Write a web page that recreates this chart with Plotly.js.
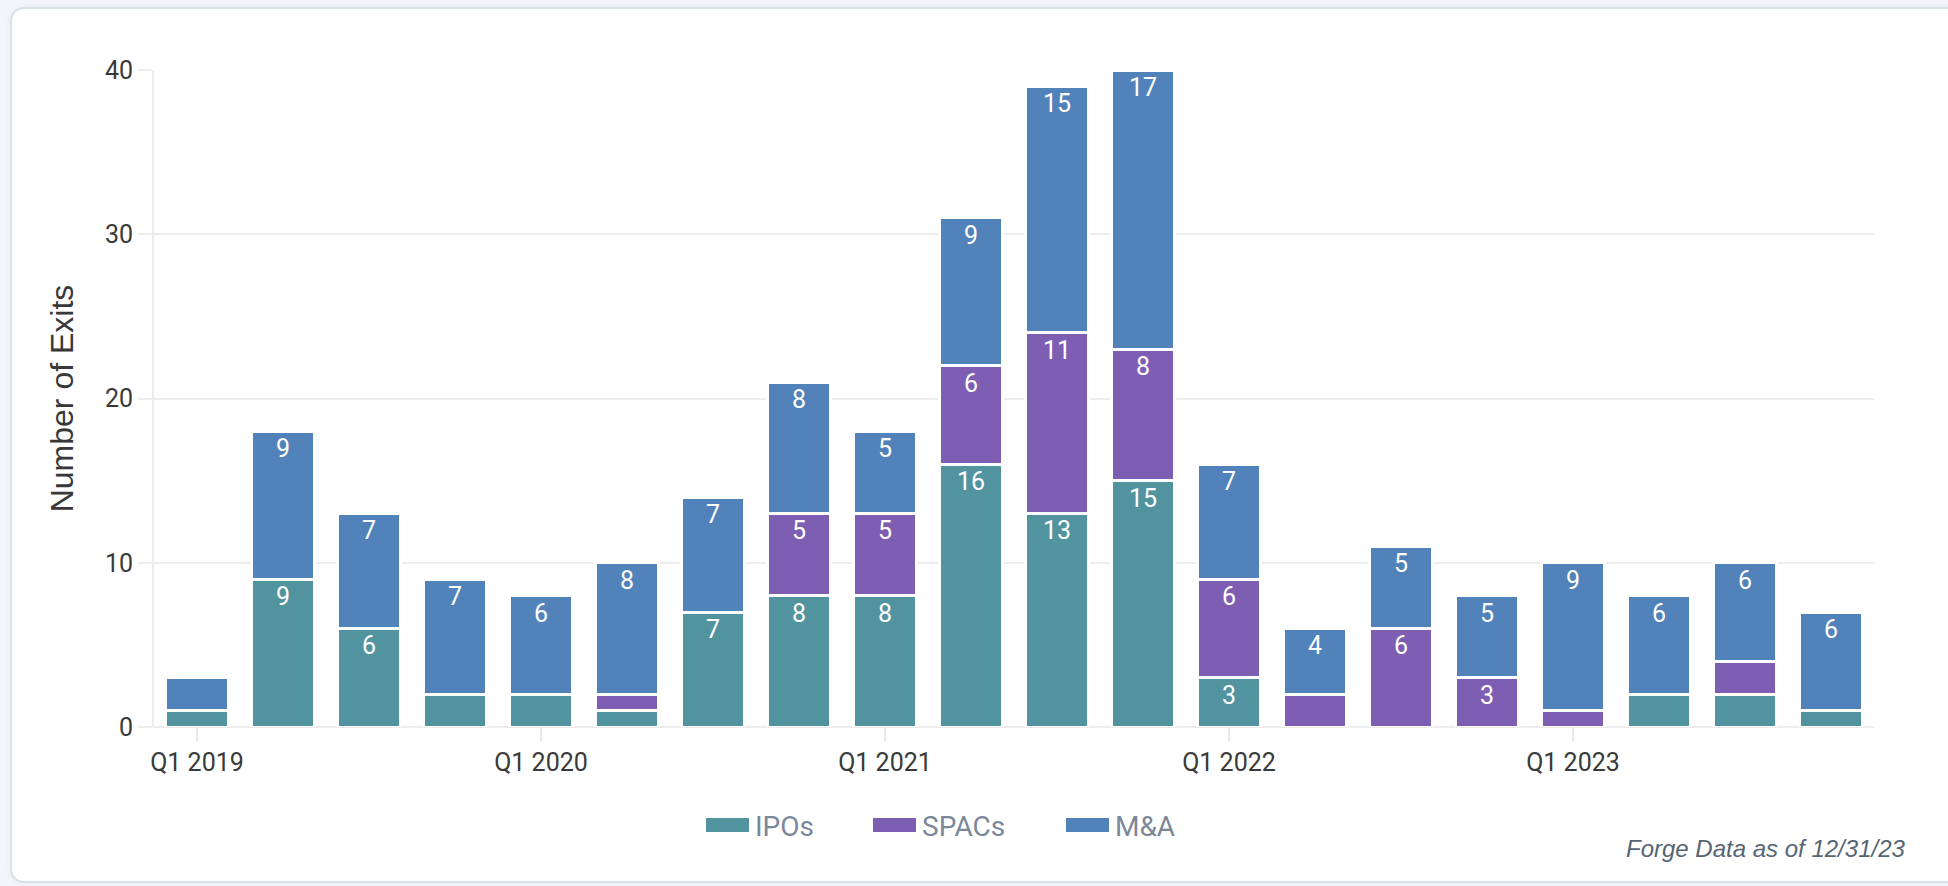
<!DOCTYPE html>
<html>
<head>
<meta charset="utf-8">
<script src="https://cdn.plot.ly/plotly-3.0.1.min.js"></script>
<style>
  html, body { margin: 0; padding: 0; }
  body { width: 1948px; height: 886px; background: #f3f5f8; position: relative; overflow: hidden; }
  #card {
    position: absolute; left: 10px; top: 7px; width: 1990px; height: 876px;
    background: #fff; border: 2px solid #d8e0e8; border-radius: 14px;
    box-sizing: border-box; box-shadow: 0 0 6px rgba(0, 0, 0, 0.04);
  }
  #myplot_exits { position: absolute; left: 0; top: 0; width: 1948px; height: 886px; }
</style>
</head>
<body>
<div id="card"></div>
<div id="myplot_exits"></div>
<script>
let quarters = [
  'Q1 2019', 'Q2 2019', 'Q3 2019', 'Q4 2019',
  'Q1 2020', 'Q2 2020', 'Q3 2020', 'Q4 2020',
  'Q1 2021', 'Q2 2021', 'Q3 2021', 'Q4 2021',
  'Q1 2022', 'Q2 2022', 'Q3 2022', 'Q4 2022',
  'Q1 2023', 'Q2 2023', 'Q3 2023', 'Q4 2023'
];
let ticks_x = ['Q1 2019', 'Q1 2020', 'Q1 2021', 'Q1 2022', 'Q1 2023'];

let ipos  = [1, 9, 6, 2, 2, 1, 7, 8, 8, 16, 13, 15, 3, 0, 0, 0, 0, 2, 2, 1];
let spacs = [0, 0, 0, 0, 0, 1, 0, 5, 5, 6, 11, 8, 6, 2, 6, 3, 1, 0, 2, 0];
let ma    = [2, 9, 7, 7, 6, 8, 7, 8, 5, 9, 15, 17, 7, 4, 5, 5, 9, 6, 6, 6];

let series_names = ['IPOs', 'SPACs', 'M&A'];
let series_colors = ['#5194a0', '#7d5eb3', '#5182b9'];
let footnote = 'Forge Data as of 12/31/23';

// plot area in page pixels
let plot_left = 154, plot_right = 1874, plot_top = 70, plot_bottom = 727;

function px_x(px) { return (px - plot_left) / (plot_right - plot_left); }
function px_y(py) { return (plot_bottom - py) / (plot_bottom - plot_top); }

function barre(name, values, color) {
  return {
    x: quarters,
    y: values,
    name: name,
    type: 'bar',
    marker: { color: color, line: { color: '#ffffff', width: 3 } },
    text: values.map(v => v >= 3 ? String(v) : ''),
    textposition: 'inside',
    insidetextanchor: 'end',
    insidetextfont: { family: 'Roboto', size: 25, color: '#ffffff' },
    constraintext: 'none',
    hoverinfo: 'x+y+name',
    showlegend: false
  };
}

let data = [
  barre(series_names[0], ipos, series_colors[0]),
  barre(series_names[1], spacs, series_colors[1]),
  barre(series_names[2], ma, series_colors[2])
];

// legend drawn by hand: wide swatch + label
let legende_x = [706, 873, 1066];
let shapes = [];
let annotations = [];
series_names.forEach((n, i) => {
  shapes.push({
    type: 'rect', xref: 'paper', yref: 'paper',
    x0: px_x(legende_x[i]), x1: px_x(legende_x[i] + 43),
    y0: px_y(832), y1: px_y(818),
    fillcolor: series_colors[i], line: { width: 0 }
  });
  annotations.push({
    xref: 'paper', yref: 'paper',
    x: px_x(legende_x[i] + 47), y: px_y(826),
    xanchor: 'left', yanchor: 'middle',
    text: n, showarrow: false,
    font: { family: 'Roboto', size: 28, color: '#7b889a' }
  });
});

annotations.push({
  xref: 'paper', yref: 'paper',
  x: px_x(1908), y: px_y(848),
  xanchor: 'right', yanchor: 'middle',
  text: footnote, showarrow: false,
  font: { family: 'Liberation Sans', size: 24, color: '#566574', style: 'italic' }
});

let forme = {
  width: 1948,
  height: 886,
  barmode: 'stack',
  bargap: 0.26,
  paper_bgcolor: 'rgba(0,0,0,0)',
  plot_bgcolor: 'rgba(0,0,0,0)',
  margin: { l: plot_left, r: 1948 - plot_right, t: plot_top, b: 886 - plot_bottom, pad: 0 },
  showlegend: false,
  xaxis: {
    type: 'category',
    range: [-0.5, 19.5],
    tickmode: 'array',
    tickvals: ticks_x,
    ticktext: ticks_x,
    ticks: 'outside',
    ticklen: 13,
    tickwidth: 2,
    tickcolor: '#e8e8e8',
    showgrid: false,
    showline: false,
    zeroline: false,
    tickfont: { family: 'Roboto', size: 25, color: '#3a3a3a' }
  },
  yaxis: {
    range: [0, 40],
    dtick: 10,
    ticks: 'outside',
    ticklen: 14,
    tickwidth: 2,
    tickcolor: '#ececec',
    gridcolor: '#ececec',
    gridwidth: 2,
    showline: true,
    linecolor: '#ececec',
    linewidth: 2,
    zeroline: true,
    zerolinecolor: '#ececec',
    zerolinewidth: 2,
    tickfont: { family: 'Roboto', size: 25, color: '#3a3a3a' },
    title: {
      text: 'Number of Exits',
      standoff: 22,
      font: { family: 'Liberation Sans', size: 32, color: '#383838' }
    }
  },
  shapes: shapes,
  annotations: annotations
};

Plotly.newPlot('myplot_exits', data, forme, { displayModeBar: false, staticPlot: false });
</script>
</body>
</html>
